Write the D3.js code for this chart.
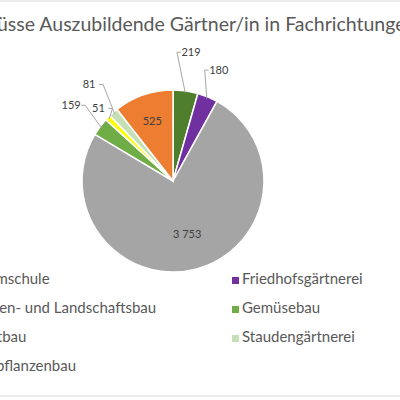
<!DOCTYPE html>
<html><head><meta charset="utf-8">
<script src="https://cdn.jsdelivr.net/npm/d3@7"></script>
<style>body{margin:0;background:#fff}text{font-family:Lato,"Open Sans",sans-serif}</style>
</head><body><div id="chart"></div>
<script>
// data
const categories = ['Baumschule','Friedhofsgärtnerei','Garten- und Landschaftsbau','Gemüsebau','Obstbau','Staudengärtnerei','Zierpflanzenbau'];
const values = [219, 180, 3753, 159, 51, 81, 525];
const colors = ['#4f7f2d','#7030a0','#a5a5a5','#70ad47','#ffff00','#c5e0b4','#ed7d31'];

const svg = d3.select('#chart').append('svg').attr('width', 400).attr('height', 400);
svg.append('rect').attr('x', -5).attr('y', 1).attr('width', 410).attr('height', 395)
    .attr('fill', 'none').attr('stroke', '#d9d9d9');

svg.append('text').attr('x', 178).attr('y', 31).attr('text-anchor', 'middle')
    .style('font-size', '19.5px').style('fill', '#595959')
    .text('Abschlüsse Auszubildende Gärtner/in in Fachrichtungen');

const r = 91;
const g = svg.append('g').attr('transform', 'translate(173,181)');
const pie = d3.pie().sort(null).value(d => d)(values);
const arc = d3.arc().innerRadius(0).outerRadius(r);

g.selectAll('path').data(pie).enter().append('path')
    .attr('d', arc).attr('fill', (d, i) => colors[i])
    .attr('stroke', '#fff').attr('stroke-width', 1.5);

// labels: inside for big slices, outside with leader lines otherwise
const labelR = [130, 120, 0, 127, 104, 128, 0];
const fmt = v => d3.format(',')(v).replace(',', ' ');
pie.forEach((d, i) => {
    const a = (d.startAngle + d.endAngle) / 2;
    let x, y;
    if (labelR[i] === 0) {
        const c = i === 2 ? d3.arc().innerRadius(0).outerRadius(r * 1.2).centroid(d) : d3.arc().innerRadius(r * 0.6).outerRadius(r * 0.8).centroid(d);
        [x, y] = c;
    } else {
        x = Math.sin(a) * labelR[i];
        y = -Math.cos(a) * labelR[i];
        const ex = Math.sin(a) * (r - 2), ey = -Math.cos(a) * (r - 2);
        const side = x >= 0 ? -1 : 1;
        const lx = x + side * 14, ly = y;
        g.append('polyline').attr('points', `${ex},${ey} ${lx},${ly} ${x + side * 10},${ly}`)
            .attr('fill', 'none').attr('stroke', '#a6a6a6').attr('stroke-width', 1);
    }
    g.append('text').attr('x', x).attr('y', y + 4)
        .attr('text-anchor', 'middle')
        .style('font-size', '11px').style('fill', '#404040').text(fmt(values[i]));
});

// legend
const legendOrder = [0, 1, 2, 3, 4, 5, 6];
const lg = svg.append('g');
legendOrder.forEach((ci, k) => {
    const col = k % 2, row = Math.floor(k / 2);
    const x = col === 0 ? -40 : 232, y = 282 + row * 29;
    lg.append('rect').attr('x', x).attr('y', y - 5).attr('width', 7).attr('height', 7).attr('fill', colors[ci]);
    lg.append('text').attr('x', x + 10).attr('y', y + 2).style('font-size', '15px').style('fill', '#595959').text(categories[ci]);
});
</script></body></html>
